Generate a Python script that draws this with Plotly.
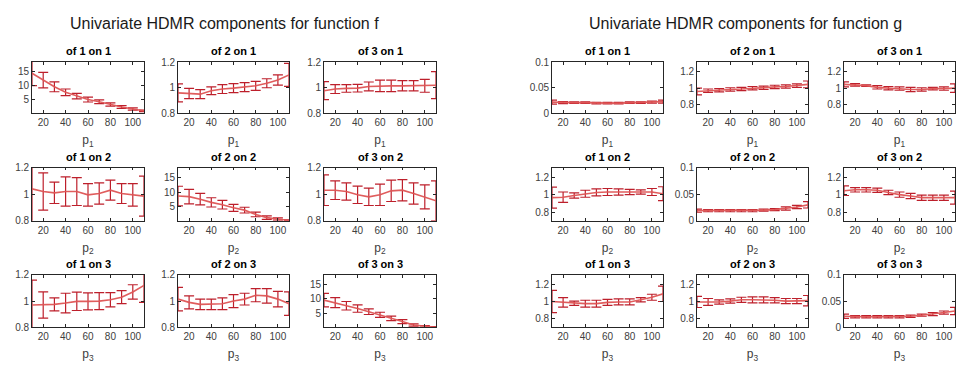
import plotly.graph_objects as go

W, H = 965, 369

p_values = [10, 20, 30, 40, 50, 60, 70, 80, 90, 100, 110]
x_ticks = [20, 40, 60, 80, 100]

# ---- function f : "of j on i" ----
f_of1_on1 = [14.5, 12.0, 9.6, 7.6, 6.2, 5.0, 4.2, 3.2, 2.3, 1.6, 0.9]
f_of1_on1_err = [4.5, 2.8, 1.8, 1.2, 1.0, 0.9, 0.7, 0.6, 0.5, 0.4, 0.3]
f_of2_on1 = [0.96, 0.955, 0.95, 0.977, 0.99, 0.997, 1.005, 1.015, 1.035, 1.06, 1.10]
f_of2_on1_err = [0.07, 0.04, 0.035, 0.03, 0.035, 0.035, 0.035, 0.035, 0.035, 0.04, 0.09]
f_of3_on1 = [0.977, 0.99, 0.995, 0.997, 1.01, 1.015, 1.015, 1.015, 1.015, 1.015, 1.02]
f_of3_on1_err = [0.07, 0.035, 0.03, 0.03, 0.035, 0.045, 0.045, 0.04, 0.04, 0.05, 0.105]

f_of1_on2 = [1.04, 1.02, 1.01, 1.02, 1.02, 0.995, 1.005, 1.03, 1.005, 0.995, 0.985]
f_of1_on2_err = [0.25, 0.14, 0.08, 0.11, 0.105, 0.085, 0.08, 0.075, 0.075, 0.085, 0.15]
f_of2_on2 = [8.6, 8.4, 7.5, 6.4, 5.6, 4.5, 3.7, 2.2, 1.1, 0.6, 0.1]
f_of2_on2_err = [3.4, 2.5, 2.0, 1.6, 1.5, 1.2, 1.0, 0.8, 0.6, 0.4, 0.2]
f_of3_on2 = [1.03, 1.03, 1.02, 0.995, 0.98, 0.995, 1.025, 1.03, 1.005, 0.98, 0.95]
f_of3_on2_err = [0.115, 0.07, 0.065, 0.065, 0.065, 0.08, 0.08, 0.08, 0.08, 0.09, 0.15]

f_of1_on3 = [0.97, 0.97, 0.975, 0.985, 0.998, 0.998, 1.0, 1.01, 1.03, 1.07, 1.12]
f_of1_on3_err = [0.19, 0.1, 0.05, 0.075, 0.07, 0.065, 0.065, 0.055, 0.05, 0.055, 0.13]
f_of2_on3 = [1.015, 0.99, 0.975, 0.975, 0.98, 1.0, 1.015, 1.045, 1.04, 1.015, 0.98]
f_of2_on3_err = [0.09, 0.05, 0.04, 0.04, 0.045, 0.05, 0.045, 0.05, 0.055, 0.06, 0.09]
f_of3_on3 = [9.6, 8.7, 7.6, 6.6, 5.5, 4.4, 3.1, 2.0, 0.8, 0.3, 0.0]
f_of3_on3_err = [2.4, 1.8, 1.5, 1.3, 1.0, 0.9, 0.8, 0.7, 0.4, 0.3, 0.2]

# ---- function g : "of j on i" ----
g_of1_on1 = [0.022, 0.021, 0.021, 0.021, 0.020, 0.020, 0.020, 0.021, 0.021, 0.022, 0.023]
g_of1_on1_err = [0.004, 0.002, 0.0015, 0.0015, 0.0015, 0.0015, 0.0015, 0.0015, 0.0015, 0.002, 0.003]
g_of2_on1 = [0.96, 0.97, 0.975, 0.985, 0.99, 1.0, 1.005, 1.015, 1.02, 1.03, 1.045]
g_of2_on1_err = [0.04, 0.02, 0.02, 0.02, 0.02, 0.02, 0.02, 0.02, 0.02, 0.02, 0.04]
g_of3_on1 = [1.045, 1.04, 1.03, 1.01, 1.0, 0.995, 0.985, 0.985, 0.995, 0.995, 1.0]
g_of3_on1_err = [0.03, 0.015, 0.01, 0.02, 0.02, 0.02, 0.025, 0.02, 0.015, 0.02, 0.05]

g_of1_on2 = [0.965, 0.97, 0.99, 1.01, 1.025, 1.03, 1.03, 1.03, 1.03, 1.03, 1.01]
g_of1_on2_err = [0.12, 0.06, 0.03, 0.04, 0.04, 0.04, 0.035, 0.03, 0.025, 0.04, 0.08]
g_of2_on2 = [0.019, 0.019, 0.019, 0.019, 0.019, 0.019, 0.020, 0.021, 0.023, 0.026, 0.030]
g_of2_on2_err = [0.003, 0.002, 0.002, 0.002, 0.002, 0.002, 0.002, 0.002, 0.003, 0.003, 0.006]
g_of3_on2 = [1.045, 1.055, 1.055, 1.05, 1.025, 1.0, 0.985, 0.965, 0.965, 0.965, 0.965]
g_of3_on2_err = [0.055, 0.025, 0.025, 0.025, 0.025, 0.03, 0.03, 0.03, 0.03, 0.03, 0.075]

g_of1_on3 = [1.0, 0.99, 0.98, 0.975, 0.975, 0.99, 0.995, 0.995, 1.02, 1.05, 1.09]
g_of1_on3_err = [0.13, 0.055, 0.025, 0.04, 0.04, 0.035, 0.035, 0.035, 0.025, 0.035, 0.09]
g_of2_on3 = [0.995, 0.995, 0.995, 1.005, 1.02, 1.02, 1.02, 1.015, 1.005, 1.005, 1.01]
g_of2_on3_err = [0.065, 0.04, 0.025, 0.025, 0.03, 0.035, 0.035, 0.03, 0.03, 0.03, 0.06]
g_of3_on3 = [0.021, 0.020, 0.020, 0.020, 0.020, 0.020, 0.021, 0.023, 0.025, 0.028, 0.031]
g_of3_on3_err = [0.004, 0.002, 0.002, 0.002, 0.002, 0.002, 0.002, 0.002, 0.003, 0.003, 0.007]

f_panels = [
    [(f_of1_on1, f_of1_on1_err), (f_of2_on1, f_of2_on1_err), (f_of3_on1, f_of3_on1_err)],
    [(f_of1_on2, f_of1_on2_err), (f_of2_on2, f_of2_on2_err), (f_of3_on2, f_of3_on2_err)],
    [(f_of1_on3, f_of1_on3_err), (f_of2_on3, f_of2_on3_err), (f_of3_on3, f_of3_on3_err)],
]
g_panels = [
    [(g_of1_on1, g_of1_on1_err), (g_of2_on1, g_of2_on1_err), (g_of3_on1, g_of3_on1_err)],
    [(g_of1_on2, g_of1_on2_err), (g_of2_on2, g_of2_on2_err), (g_of3_on2, g_of3_on2_err)],
    [(g_of1_on3, g_of1_on3_err), (g_of2_on3, g_of2_on3_err), (g_of3_on3, g_of3_on3_err)],
]

# axis styles
f_diag = dict(range=[0, 18.5], tickvals=[5, 10, 15], ticktext=["5", "10", "15"])
f_off = dict(range=[0.8, 1.2], tickvals=[0.8, 1.0, 1.2], ticktext=["0.8", "1", "1.2"])
g_diag = dict(range=[0, 0.1], tickvals=[0, 0.05, 0.1], ticktext=["0", "0.05", "0.1"])
g_off = dict(range=[0.7, 1.31], tickvals=[0.8, 1.0, 1.2], ticktext=["0.8", "1", "1.2"])

# pixel layout
col_px = {"f": [(32, 144), (178, 289), (324, 436)],
          "g": [(552, 663), (697, 808), (844, 955)]}
row_px = [(58, 111), (167, 222), (278, 332)]

FONT = "Liberation Sans, Arial, Helvetica, sans-serif"
LINE_C = "rgba(222,84,84,0.95)"
ERR_C = "#bd1f2b"
AX_C = "#262626"
TICK_FONT = dict(family=FONT, size=10, color="#404040")

fig = go.Figure()
layout = dict(width=W, height=H, autosize=False,
              margin=dict(l=0, r=0, t=0, b=0),
              paper_bgcolor="white", plot_bgcolor="white",
              showlegend=False, font=dict(family=FONT))
annotations = []

k = 0
for grp, panels, diag_s, off_s in [("f", f_panels, f_diag, f_off), ("g", g_panels, g_diag, g_off)]:
    for i in range(3):
        for j in range(3):
            k += 1
            xa = "x" if k == 1 else f"x{k}"
            ya = "y" if k == 1 else f"y{k}"
            xl = "xaxis" if k == 1 else f"xaxis{k}"
            yl = "yaxis" if k == 1 else f"yaxis{k}"
            vals, errs = panels[i][j]
            fig.add_trace(go.Scatter(
                x=p_values, y=vals, xaxis=xa, yaxis=ya, mode="lines",
                line=dict(color=LINE_C, width=1.6),
                error_y=dict(type="data", array=errs, visible=True,
                             color=ERR_C, thickness=1.2, width=5),
                cliponaxis=False, hoverinfo="skip"))
            x0, x1 = col_px[grp][j]
            y0, y1 = row_px[i]
            common = dict(showline=True, linecolor=AX_C, linewidth=0.8, mirror="allticks",
                          ticks="inside", ticklen=3, tickcolor=AX_C, tickwidth=0.8,
                          showgrid=False, zeroline=False, tickfont=TICK_FONT, fixedrange=True)
            layout[xl] = dict(common, domain=[x0 / W, x1 / W], anchor=ya,
                              range=[10, 110], tickvals=x_ticks, ticktext=[str(t) for t in x_ticks],
                              title=dict(text=f"p<sub>{i+1}</sub>", standoff=8,
                                         font=dict(family=FONT, size=12, color="#404040")))
            s = diag_s if i == j else off_s
            layout[yl] = dict(common, domain=[1 - y1 / H, 1 - y0 / H], anchor=xa, **s)
            xc = (x0 + x1) / 2 / W
            annotations.append(dict(text=f"of {j+1} on {i+1}", x=xc, y=1 - (y0 - 11) / H,
                                    xref="paper", yref="paper", showarrow=False,
                                    xanchor="center", yanchor="middle",
                                    font=dict(family=FONT, size=11, color="black", weight="bold")))

annotations.append(dict(text="Univariate HDMR components for function f", x=224 / W, y=1 - 18 / H,
                        xref="paper", yref="paper", showarrow=False, xanchor="center", yanchor="middle",
                        font=dict(family=FONT, size=16, color="#1a1a1a")))
annotations.append(dict(text="Univariate HDMR components for function g", x=745 / W, y=1 - 18 / H,
                        xref="paper", yref="paper", showarrow=False, xanchor="center", yanchor="middle",
                        font=dict(family=FONT, size=16, color="#1a1a1a")))
layout["annotations"] = annotations
fig.update_layout(**layout)
fig.write_html("out.html", config={"displayModeBar": False},
               post_script="document.body.style.margin='0';document.body.style.overflow='hidden';")
